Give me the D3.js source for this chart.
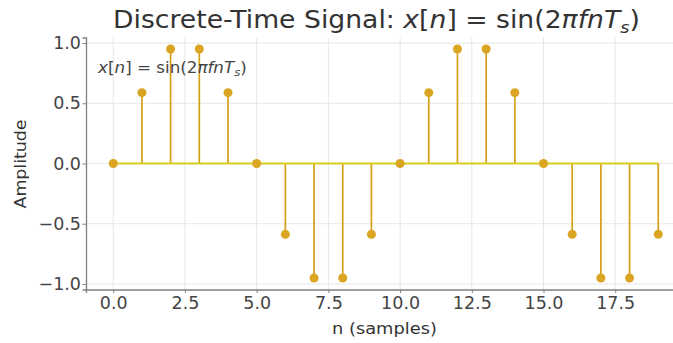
<!DOCTYPE html>
<html><head><meta charset="utf-8">
<script src="https://cdn.jsdelivr.net/npm/d3@7"></script>
<style>body{margin:0;background:#fff}svg{display:block;font-family:"DejaVu Sans",sans-serif}</style>
</head><body><svg id="c" width="673" height="343"></svg>
<script>
const samples = [0,1,2,3,4,5,6,7,8,9,10,11,12,13,14,15,16,17,18,19];
const amplitude = [0,0.588,0.951,0.951,0.588,0,-0.588,-0.951,-0.951,-0.588,0,0.588,0.951,0.951,0.588,0,-0.588,-0.951,-0.951,-0.588];
const xTicks = [0,2.5,5,7.5,10,12.5,15,17.5];
const yTicks = [-1,-0.5,0,0.5,1];

const svg = d3.select("#c");
const L = 86, T = 37.5, B = 289.5, R = 685.5;
const x = d3.scaleLinear().domain([-0.95,19.95]).range([L,R]);
const y = d3.scaleLinear().domain([-1.046,1.046]).range([B,T]);

function fitWidth(sel, x0, x1){
  const bb = sel.node().getBBox();
  const s = (x1-x0)/bb.width;
  sel.attr("transform",`translate(${x0},0) scale(${s},1) translate(${-bb.x},0)`);
}

const g = svg.append("g");
// grid
g.selectAll(".vg").data(xTicks).join("line").attr("x1",d=>x(d)).attr("x2",d=>x(d)).attr("y1",T).attr("y2",B).attr("stroke","#e4e4e4").attr("stroke-width",0.9);
g.selectAll(".hg").data(yTicks).join("line").attr("x1",L).attr("x2",673).attr("y1",d=>y(d)).attr("y2",d=>y(d)).attr("stroke","#e4e4e4").attr("stroke-width",0.9);

// axes
const xa = svg.append("g").attr("transform",`translate(0,${B})`).call(d3.axisBottom(x).tickValues(xTicks).tickFormat(d3.format(".1f")).tickSize(3.5).tickPadding(4));
const ya = svg.append("g").attr("transform",`translate(${L},0)`).call(d3.axisLeft(y).tickValues(yTicks).tickFormat(d=>d3.format(".1f")(d).replace("-","\u2212")).tickSize(3.5).tickPadding(1.5));
[xa,ya].forEach(a=>{
  a.select(".domain").attr("stroke","#808080").attr("stroke-width",1.3);
  a.selectAll(".tick line").attr("stroke","#808080");
  a.selectAll(".tick text").attr("fill","#444").attr("font-size",17.5).attr("font-family","DejaVu Sans");
});

// stems
const stemCol = "#d4a017", baseCol = "#d8cc1c";
g.selectAll(".stem").data(samples).join("line")
  .attr("x1",d=>x(d)).attr("x2",d=>x(d)).attr("y1",y(0)).attr("y2",(d,i)=>y(amplitude[i]))
  .attr("stroke",stemCol).attr("stroke-width",1.7);
g.append("line").attr("x1",x(samples[0])).attr("x2",x(samples[samples.length-1])).attr("y1",y(0)).attr("y2",y(0)).attr("stroke",baseCol).attr("stroke-width",1.9);
g.selectAll(".mk").data(samples).join("circle")
  .attr("cx",d=>x(d)).attr("cy",(d,i)=>y(amplitude[i])).attr("r",4.5).attr("fill","#d9a522");

// title
const t = svg.append("text").attr("x",0).attr("y",28).attr("font-size",24).attr("fill","#333");
t.append("tspan").text("Discrete-Time Signal: ");
t.append("tspan").attr("font-style","italic").text("x");
t.append("tspan").text("[");
t.append("tspan").attr("font-style","italic").text("n");
t.append("tspan").text("] = sin(2");
t.append("tspan").attr("font-style","italic").text("πfnT");
t.append("tspan").attr("font-style","italic").attr("font-size",16).attr("dy",5).text("s");
t.append("tspan").attr("dy",-5).text(")");
fitWidth(t,113,640);

// annotation
const a = svg.append("text").attr("x",0).attr("y",73).attr("font-size",15).attr("fill","#444");
a.append("tspan").attr("font-style","italic").text("x");
a.append("tspan").text("[");
a.append("tspan").attr("font-style","italic").text("n");
a.append("tspan").text("] = sin(2");
a.append("tspan").attr("font-style","italic").text("πfnT");
a.append("tspan").attr("font-style","italic").attr("font-size",10.5).attr("dy",3.5).text("s");
a.append("tspan").attr("dy",-3.5).text(")");
fitWidth(a,97,247);

// axis labels
const xl = svg.append("text").attr("x",0).attr("y",334).attr("font-size",16.5).attr("fill","#333").text("n (samples)");
fitWidth(xl,332,437);
svg.append("text").attr("transform","translate(26,164) rotate(-90)").attr("text-anchor","middle").attr("font-size",16.5).attr("fill","#333").attr("textLength",89).attr("lengthAdjust","spacingAndGlyphs").text("Amplitude");
</script></body></html>
